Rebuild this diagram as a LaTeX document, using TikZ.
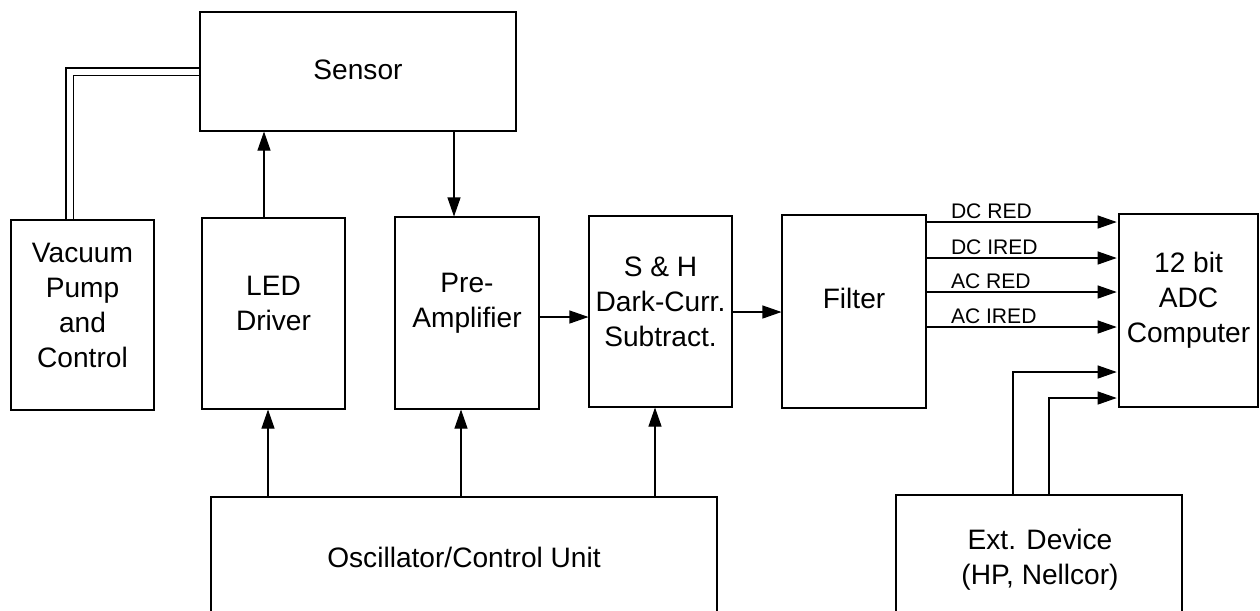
\documentclass[tikz,border=0pt]{standalone}
\usepackage{fontspec}
\setmainfont{Liberation Sans}
\usetikzlibrary{arrows.meta,fit}
\begin{document}
\begin{tikzpicture}[x=0.02cm,y=-0.02cm,
  box/.style={draw,line width=0.6pt,inner sep=0pt,align=center,font=\fontsize{16}{20}\selectfont},
  txt/.style={align=center,font=\fontsize{16}{20}\selectfont,inner sep=0pt},
  lbl/.style={font=\fontsize{12}{14}\selectfont,inner sep=1.5pt,anchor=south west},
  arr/.style={line width=0.6pt,-{Triangle[length=0.38cm,width=0.26cm]}},
  ln/.style={line width=0.6pt}]
\useasboundingbox (0,0) rectangle (1260,610);
\clip (0,0) rectangle (1260,610);
% boxes
\node[box,fit={(200,12) (516,131)}] (sensor) {};
\node[txt] at (358,70) {Sensor};
\node[box,fit={(11,220) (154,410)}] (vac) {Vacuum\\Pump\\and\\Control};
\node[box,fit={(202,218) (345,409)}] (led) {LED\\Driver};
\node[box,fit={(395,217) (539,409)}] (pre) {Pre-\\Amplifier};
\node[box,fit={(589,216) (732,407)}] (sh) {S \& H\\Dark-Curr.\\Subtract.};
\node[box,fit={(782,215) (926,408)}] (filt) {};
\node[txt] at (854,298) {Filter};
\node[box,fit={(1119,214) (1258,407)}] (adc) {12 bit\\ADC\\Computer};
\node[box,fit={(211,497) (717,618)}] (osc) {};
\node[txt] at (464,557) {Oscillator/Control Unit};
\node[box,fit={(896,495) (1182,621)}] (ext) {};
\node[txt] at (1040,560) {Ext. Device\\(HP, Nellcor)};
% helper coordinates
\coordinate (vy) at (0,71.5);
\coordinate (xl) at (264,0);
\coordinate (xs) at (454,0);
\coordinate (xo1) at (268,0);
\coordinate (xo2) at (461,0);
\coordinate (xo3) at (655,0);
\coordinate (yp) at (0,317);
\coordinate (yf) at (0,312);
\coordinate (y1) at (0,222);
\coordinate (y2) at (0,258);
\coordinate (y3) at (0,292);
\coordinate (y4) at (0,327);
\coordinate (y5) at (0,372);
\coordinate (y6) at (0,398);
\coordinate (xe1) at (1013,0);
\coordinate (xe2) at (1049,0);
\coordinate (xv) at (69.5,0);
% vacuum double line
\draw[double,line width=0.6pt,double distance=0.12cm] (vac.north -| xv) |- (sensor.west |- vy);
% arrows
\draw[arr] (led.north -| xl) -- (sensor.south -| xl);
\draw[arr] (sensor.south -| xs) -- (pre.north -| xs);
\draw[arr] (pre.east |- yp) -- (sh.west |- yp);
\draw[arr] (sh.east |- yf) -- (filt.west |- yf);
\draw[arr] (osc.north -| xo1) -- (led.south -| xo1);
\draw[arr] (osc.north -| xo2) -- (pre.south -| xo2);
\draw[arr] (osc.north -| xo3) -- (sh.south -| xo3);
\draw[arr,shorten >=1pt] (filt.east |- y1) -- (adc.west |- y1);
\draw[arr,shorten >=1pt] (filt.east |- y2) -- (adc.west |- y2);
\draw[arr,shorten >=1pt] (filt.east |- y3) -- (adc.west |- y3);
\draw[arr,shorten >=1pt] (filt.east |- y4) -- (adc.west |- y4);
\draw[arr,shorten >=1pt] (ext.north -| xe1) |- (adc.west |- y5);
\draw[arr,shorten >=1pt] (ext.north -| xe2) |- (adc.west |- y6);
% labels
\node[lbl] at (948,222) {DC RED};
\node[lbl] at (948,258) {DC IRED};
\node[lbl] at (948,292) {AC RED};
\node[lbl] at (948,327) {AC IRED};
\end{tikzpicture}
\end{document}
